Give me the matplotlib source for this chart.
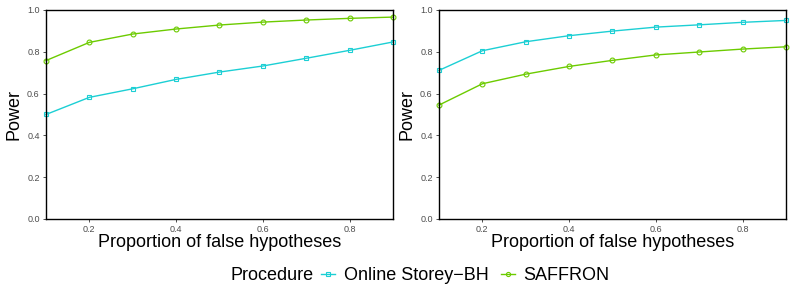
import matplotlib
matplotlib.use("Agg")
from matplotlib import pyplot as plt
from matplotlib.lines import Line2D
import numpy as np

plt.rcParams['font.family'] = ['Liberation Sans', 'DejaVu Sans']

prop = [0.1, 0.2, 0.3, 0.4, 0.5, 0.6, 0.7, 0.8, 0.9]
# left panel
storey_left = [0.500, 0.582, 0.623, 0.668, 0.703, 0.732, 0.769, 0.807, 0.847]
saffron_left = [0.758, 0.845, 0.885, 0.909, 0.928, 0.942, 0.952, 0.960, 0.966]
# right panel
storey_right = [0.711, 0.805, 0.848, 0.877, 0.899, 0.918, 0.929, 0.941, 0.950]
saffron_right = [0.545, 0.647, 0.693, 0.730, 0.759, 0.785, 0.799, 0.813, 0.824]

xticks = [0.2, 0.4, 0.6, 0.8]
yticks = [0.0, 0.2, 0.4, 0.6, 0.8, 1.0]
series_names = ['Online Storey\u2212BH', 'SAFFRON']

col_storey = '#1CCFD4'
col_saffron = '#6CCB00'
fs = 13

fig = plt.figure(figsize=(7.97, 2.99), dpi=100)
ax1 = fig.add_axes([0.0577, 0.2676, 0.4354, 0.699])
ax2 = fig.add_axes([0.5508, 0.2676, 0.4354, 0.699])

for ax, s, f in [(ax1, storey_left, saffron_left), (ax2, storey_right, saffron_right)]:
    ax.plot(prop, s, color=col_storey, lw=1, marker='s', ms=3.5, mfc='none', mew=0.8, clip_on=False)
    ax.plot(prop, f, color=col_saffron, lw=1, marker='o', ms=3.5, mfc='none', mew=0.8, clip_on=False)
    ax.set_xlim(0.1, 0.9)
    ax.set_ylim(0.0, 1.0)
    ax.set_xticks(xticks)
    ax.set_yticks(yticks)
    ax.set_xticklabels(['%.1f' % t for t in xticks])
    ax.set_yticklabels(['%.1f' % t for t in yticks])
    ax.tick_params(labelsize=6.5, labelcolor='#4D4D4D', length=2.5, width=0.6, color='#333333', pad=2)
    for sp in ax.spines.values():
        sp.set_linewidth(1.0)
        sp.set_color('black')
    ax.set_xlabel('Proportion of false hypotheses', fontsize=fs, labelpad=0)
    ax.set_ylabel('Power', fontsize=fs, labelpad=3)

# legend: title on the same row as the keys
ly = 1 - 276 / 299
fig.text(231 / 797, ly, 'Procedure', fontsize=fs, ha='left', va='center')
handles = [
    Line2D([], [], color=col_storey, lw=1, marker='s', ms=3, mfc='none', mew=0.8),
    Line2D([], [], color=col_saffron, lw=1, marker='o', ms=3, mfc='none', mew=0.8),
]
fig.legend(handles, series_names, loc='center left', bbox_to_anchor=(321 / 797, ly),
           ncol=2, frameon=False, fontsize=fs, handlelength=0.75, handletextpad=0.5,
           columnspacing=0.7, borderpad=0, borderaxespad=0)

fig.savefig('out.png', dpi=100)
